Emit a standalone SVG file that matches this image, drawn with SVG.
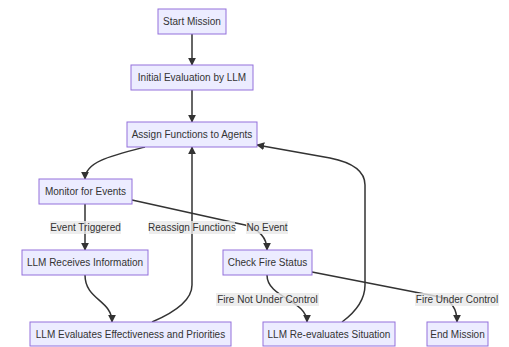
<svg xmlns="http://www.w3.org/2000/svg" width="509" height="347" viewBox="0 0 509 347">
<defs>
<style>
.node rect{fill:#ECECFF;stroke:#9370DB;stroke-width:1}
.node text,.lbl text{font-family:"Liberation Sans",Arial,sans-serif;font-size:10px;fill:#333;text-anchor:middle;dominant-baseline:central}
.edge{fill:none;stroke:#333;stroke-width:1.5;marker-end:url(#arr)}
.lbl rect{fill:#e8e8e8;opacity:0.8}
</style>
<marker id="arr" viewBox="0 0 10 10" refX="9" refY="5" markerWidth="8" markerHeight="8" markerUnits="userSpaceOnUse" orient="auto">
<path d="M0,0 L10,5 L0,10 z" fill="#333"/>
</marker>
</defs>
<rect width="509" height="347" fill="#fff"/>
<g id="connectors">
<path class="edge" d="M192,34 L192,65"/>
<path class="edge" d="M192,90 L192,122"/>
<path class="edge" d="M145,147 C110,156 85,162 85,179"/>
<path class="edge" d="M85,204 L85,250"/>
<path class="edge" d="M132,200 L245,225 Q267,232 267,250"/>
<path class="edge" d="M85,275 C85,300 112,300 112,322"/>
<path class="edge" d="M152,322 Q192,305 192,285 L192,147"/>
<path class="edge" d="M267,275 C267,298 307,300 307,322"/>
<path class="edge" d="M312,272 L440,297 Q457,302 457,322"/>
<path class="edge" d="M342,322 Q365,305 365,285 L365,185 Q365,165 330,158 L257,145"/>
</g>
<g id="labels">
<g class="lbl"><rect x="50" y="221" width="71" height="13"/><text x="85.5" y="227.5">Event Triggered</text></g>
<g class="lbl"><rect x="149" y="221" width="86" height="13"/><text x="192" y="227.5">Reassign Functions</text></g>
<g class="lbl"><rect x="246" y="221" width="42" height="13"/><text x="267" y="227.5">No Event</text></g>
<g class="lbl"><rect x="216" y="293" width="103" height="13"/><text x="267.5" y="299.5">Fire Not Under Control</text></g>
<g class="lbl"><rect x="415" y="293" width="84" height="13"/><text x="457" y="299.5">Fire Under Control</text></g>
</g>
<g id="start" class="node"><rect x="158" y="9" width="68" height="25"/><text x="192" y="21.5">Start Mission</text></g>
<g id="initial" class="node"><rect x="131" y="65" width="122" height="25"/><text x="192" y="77.5">Initial Evaluation by LLM</text></g>
<g id="assign" class="node"><rect x="127" y="122" width="130" height="25"/><text x="192" y="134.5">Assign Functions to Agents</text></g>
<g id="monitor" class="node"><rect x="39" y="179" width="93" height="25"/><text x="85.5" y="191.5">Monitor for Events</text></g>
<g id="receives" class="node"><rect x="22" y="250" width="126" height="25"/><text x="85" y="262.5">LLM Receives Information</text></g>
<g id="check" class="node"><rect x="223" y="250" width="89" height="25"/><text x="267.5" y="262.5">Check Fire Status</text></g>
<g id="evaluates" class="node"><rect x="30" y="322" width="201" height="24"/><text x="130.5" y="334">LLM Evaluates Effectiveness and Priorities</text></g>
<g id="reevaluates" class="node"><rect x="263" y="322" width="132" height="24"/><text x="329" y="334">LLM Re-evaluates Situation</text></g>
<g id="end" class="node"><rect x="427" y="322" width="61" height="24"/><text x="457.5" y="334">End Mission</text></g>
</svg>
